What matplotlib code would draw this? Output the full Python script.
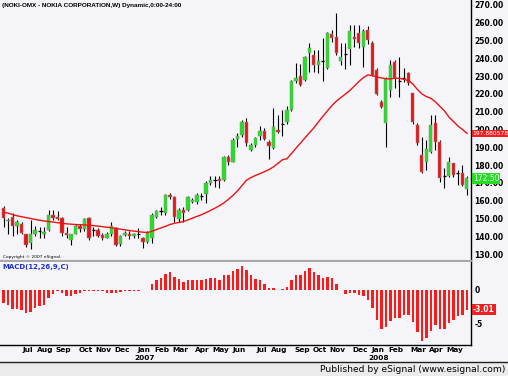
import numpy as np
import pandas as pd
import matplotlib
matplotlib.use('Agg')
import matplotlib.pyplot as plt
from matplotlib.transforms import blended_transform_factory

# ---------------- data (weekly, NOKI-OMX) ----------------
opens = [156, 148.5, 151, 146, 147, 141, 136, 141.5, 143.2, 141.5,
         143.5, 152, 151, 150, 142, 138, 141.5, 145.5, 144, 150,
         143.3, 143.5, 140.8, 139, 141, 144.5, 135.7, 140.8, 141.2, 140.3,
         141.2, 139, 137, 139, 151, 154.3, 153, 163.3, 162, 149.5,
         155, 154.5, 159, 159, 162.8, 164, 170.2, 171.6, 172, 171.7,
         184.5, 182, 194.6, 197, 204, 188.5, 191.3, 196.4, 199.4, 193.2,
         189.5, 199.8, 203, 204.4, 211, 227, 230, 228, 242.8, 242,
         236.3, 238.3, 234.4, 253.7, 252, 238.7, 242.3, 245, 252.2, 254,
         246.6, 256, 248.8, 233.5, 215.7, 203.5, 222.2, 238.2, 227, 228.8,
         231.6, 220.4, 202.6, 185.7, 182, 187.6, 203.5, 193.2, 173.6, 173.9,
         181, 175.3, 175.4, 166.5]
highs = [157, 150.5, 153, 149, 148, 141.5, 149, 145.5, 145, 145,
         155, 154.8, 154, 151, 145, 141.5, 147, 147, 150, 151,
         145, 144.5, 141.7, 142.5, 148, 145, 140.5, 142.7, 142.7, 142,
         144.5, 139.5, 142.7, 153, 155, 156.7, 164, 164.2, 162.4, 155.8,
         156.7, 162.7, 161.4, 164.2, 164.2, 170.8, 173.6, 174, 173.6, 185.2,
         185.8, 195.1, 197.9, 205.4, 206.3, 192.3, 196, 202, 200.7, 194.2,
         212, 208, 211, 213.2, 227.9, 237.2, 236.8, 241.3, 248.5, 244.7,
         244.7, 251.5, 255, 256, 265.7, 248.5, 248.5, 258.8, 258.8, 258.8,
         256.3, 258, 249.5, 234.4, 216.6, 229.7, 239.1, 239.1, 240.6, 234.4,
         232.5, 220.7, 203.5, 196, 194.2, 208.2, 208.2, 194.2, 178.2, 184.8,
         181.4, 177.3, 180, 173.9]
lows = [145, 141, 140, 141, 141, 134, 133, 140, 139, 139,
        143, 149, 149, 140, 139, 135, 141, 142.6, 143, 138,
        140, 139.8, 138, 139, 140, 134.5, 134.5, 139.9, 138.4, 139,
        139, 133.5, 136, 136, 150, 152, 152, 160.9, 148.3, 148.3,
        148, 154, 158.6, 158.3, 160.5, 158.6, 168.9, 167.6, 167, 171.3,
        180, 181.5, 190.4, 196, 191, 188, 190.4, 194.2, 194, 183.3,
        189, 198, 196.4, 203, 210.6, 226, 224.5, 227, 232.5, 232.5,
        232, 227, 233.8, 249.4, 242, 236.3, 233.8, 236.3, 246.6, 245.6,
        235.3, 248, 230, 219.4, 212, 190.4, 218.5, 223.2, 218.5, 226.9,
        225, 203, 191.3, 175.4, 177.3, 186.7, 188.5, 170.7, 167, 173.2,
        173.5, 168.9, 168, 163.3]
closes = [150, 149, 146, 148, 142, 135, 141, 143.5, 143.2, 142.5,
          152, 150, 149.5, 142, 140.5, 141, 145.5, 144, 149.5, 139,
          143.3, 140, 139, 141.5, 146, 135, 140, 142, 139.9, 141.2,
          141.2, 137, 142, 152, 154, 154.3, 163, 162, 151, 154.5,
          153, 162, 160.5, 163.3, 162.8, 170, 171.7, 171.6, 171, 184.8,
          182, 194.2, 196.1, 204.5, 192.3, 191.3, 195, 199.4, 194.5, 190.8,
          201.6, 198.6, 203, 211, 227, 229.2, 225, 240.6, 245.6, 236.3,
          238.7, 238.3, 254.1, 251.3, 243, 240.6, 242.3, 255.6, 250.7, 248.8,
          255.6, 250.3, 230.7, 219.8, 212.9, 228.2, 236.3, 228.8, 227, 228.8,
          226, 204.4, 192.3, 176.4, 188.9, 202.6, 193.2, 172.6, 173.6, 182,
          174.5, 175.3, 168.9, 172.5]
ma_line = [153.5, 153, 152.2, 151.5, 151, 150.5, 150, 149.5, 149, 148.6,
           148.3, 148, 147.6, 147.3, 147, 146.8, 146.6, 146.5, 146.4, 146.2,
           146, 145.7, 145.4, 145.1, 144.8, 144.4, 144, 143.6, 143.2, 142.9,
           142.6, 142.3, 142.1, 142.8, 143.8, 144.7, 145.6, 146.6, 147.3, 147.8,
           148.3, 149.2, 150.2, 151.2, 152.1, 153.3, 154.5, 155.8, 157.2, 158.8,
           160.8, 163, 165.5, 168.5, 171.5, 173, 174.2, 175.2, 176.3, 177.5,
           179, 181, 183, 183.6, 186.5, 189.5, 192.4, 195.3, 198.2, 201,
           204.3, 207.5, 210.5, 213.5, 216, 218, 220, 222, 224.5, 227,
           229.2, 230.7, 230.3, 229.5, 229, 228.5, 228.5, 228.8, 228.8, 228.2,
           227.5, 225.5, 222.5, 220, 218.5, 217.5, 215.5, 213, 210.5, 207,
           204.5, 202, 200, 197.88]
macd_hist = [-2.0, -2.3, -2.9, -2.9, -3.0, -3.5, -3.3, -2.8, -2.4, -2.2,
             -1.2, -0.65, -0.15, -0.5, -0.85, -0.85, -0.6, -0.5, -0.15, -0.1,
             -0.1, -0.1, -0.15, -0.5, -0.5, -0.5, -0.35, -0.2, -0.15, -0.1,
             -0.1, -0.05, 0.05, 0.85, 1.5, 1.77, 2.4, 2.8, 2.0, 1.67,
             1.26, 1.5, 1.5, 1.5, 1.5, 1.67, 1.77, 1.77, 1.5, 2.2,
             2.3, 2.9, 3.2, 3.7, 3.0, 2.2, 1.67, 1.5, 0.85, 0.25,
             0.35, 0.05, 0.1, 0.5, 1.5, 2.2, 2.2, 2.9, 3.4, 2.8,
             2.2, 1.87, 2.0, 1.77, 0.85, 0.03, -0.65, -0.4, -0.5, -0.75,
             -0.9, -1.5, -2.8, -4.5, -5.9, -5.6, -4.7, -4.3, -4.2, -3.8,
             -3.8, -4.8, -6.3, -7.7, -7.3, -6.2, -5.3, -5.9, -5.9, -5.05,
             -4.5, -4.0, -3.8, -3.01]
price_ticks = [130, 140, 150, 160, 170, 180, 190, 200, 210, 220, 230, 240, 250, 260, 270]
macd_ticks = [0, -5]
ma_last_label = '197.880578'
close_last_label = '172.50'
macd_last_label = '-3.01'
title = '(NOKI-OMX - NOKIA CORPORATION,W) Dynamic,0:00-24:00'

n = len(closes)
dates = pd.date_range('2006-06-02', periods=n, freq='W-FRI')
idx = np.arange(n)

# ---------------- figure ----------------
W, H = 508, 376
BG = '#f5f4f8'
fig = plt.figure(figsize=(W / 100, H / 100), dpi=100)
fig.patch.set_facecolor(BG)


def px_axes(x0, y0, x1, y1):
    return fig.add_axes([x0 / W, 1 - y1 / H, (x1 - x0) / W, (y1 - y0) / H])


ax = px_axes(0, 0, 471, 261)
axm = px_axes(0, 262, 471, 345)
xlim = (-0.78, 103.9)

GREEN = '#22e022'
RED = '#ee1111'
bold = dict(fontweight='bold', family='DejaVu Sans')

for a in (ax, axm):
    a.set_facecolor(BG)
    a.set_xlim(*xlim)
    a.set_xticks([])
    for s in ('left', 'top'):
        a.spines[s].set_visible(False)
    a.spines['right'].set_color('black')
    a.spines['right'].set_linewidth(1.0)
    a.yaxis.tick_right()
    a.tick_params(axis='y', length=0, pad=2.5, labelsize=5.5)

ax.spines['bottom'].set_color('#a8a8a8')
ax.spines['bottom'].set_linewidth(1.6)
axm.spines['bottom'].set_color('black')
axm.spines['bottom'].set_linewidth(1.0)

# candles
o = np.array(opens); h = np.array(highs); l = np.array(lows); c = np.array(closes)
ax.vlines(idx, l, h, color='black', lw=0.8, zorder=2)
bw = 0.68
for i in range(n):
    if abs(c[i] - o[i]) < 0.05:
        ax.hlines(o[i], i - bw / 2, i + bw / 2, color='black', lw=0.9, zorder=3)
    else:
        col = GREEN if c[i] > o[i] else RED
        ax.bar(i, c[i] - o[i], bottom=o[i], width=bw, color=col,
               edgecolor='#8a8a8a', linewidth=0.35, zorder=3)

ax.plot(idx, ma_line, color=RED, lw=1.0, zorder=4)
ax.set_ylim(126.1, 272.8)
ax.set_yticks(price_ticks)
ax.set_yticklabels([f'{v:.2f}' for v in price_ticks], **bold)

# macd histogram
axm.bar(idx, macd_hist, width=0.5, color='#ff1a1a', edgecolor='none', zorder=3)
axm.set_ylim(-8.33, 4.24)
axm.set_yticks(macd_ticks)
axm.set_yticklabels([str(v) for v in macd_ticks], **bold)

# last-value boxes on the right axis (drawn over the tick labels, as in the original)
tr = blended_transform_factory(ax.transAxes, ax.transData)
ax.text(1.003, ma_line[-1], ma_last_label, transform=tr, ha='left', va='center',
        fontsize=4.3, color='white', family='DejaVu Sans', zorder=10,
        bbox=dict(boxstyle='square,pad=0.12', fc='#ee2020', ec='none'), clip_on=False)
ax.text(1.004, closes[-1], close_last_label, transform=tr, ha='left', va='center',
        fontsize=5.5, color='white', family='DejaVu Sans', zorder=10,
        bbox=dict(boxstyle='square,pad=0.12', fc='#22dd22', ec='none'), clip_on=False)
trm = blended_transform_factory(axm.transAxes, axm.transData)
axm.text(1.004, macd_hist[-1], macd_last_label, transform=trm, ha='left', va='center',
         fontsize=5.5, color='white', fontweight='bold', family='DejaVu Sans', zorder=10,
         bbox=dict(boxstyle='square,pad=0.12', fc='#ee2020', ec='none'), clip_on=False)

# month labels
trx = blended_transform_factory(axm.transData, fig.transFigure)
prev_month = None
for i, d in enumerate(dates):
    if d.month != prev_month:
        if prev_month is not None:
            axm.text(i + 0.3, 1 - 350 / H, d.strftime('%b'), transform=trx, ha='center', va='center',
                     fontsize=5.3, clip_on=False, **bold)
            if d.month == 1:
                axm.text(i + 0.3, 1 - 357.5 / H, str(d.year), transform=trx, ha='center', va='center',
                         fontsize=5.3, clip_on=False, **bold)
        prev_month = d.month

# texts
fig.text(2 / W, 1 - 5.5 / H, title, ha='left', va='center', fontsize=4.6,
         fontweight='bold', family='Liberation Sans')
fig.text(3 / W, 1 - 257 / H, 'Copyright \u00a9 2007 eSignal.', ha='left', va='center',
         fontsize=3.2, family='DejaVu Sans')
fig.text(2 / W, 1 - 266.5 / H, 'MACD(12,26,9,C)', ha='left', va='center', fontsize=5.0,
         color='#2030d0', fontweight='bold', family='DejaVu Sans')

# bottom band
band = fig.add_axes([0, 0, 1, 14 / H])
band.set_facecolor('#ebebeb')
band.set_xticks([]); band.set_yticks([])
for s in ('left', 'right', 'bottom'):
    band.spines[s].set_visible(False)
band.spines['top'].set_color('#202020')
band.spines['top'].set_linewidth(1.0)
band.text(0.994, 0.45, 'Published by eSignal (www.esignal.com)', transform=band.transAxes,
          ha='right', va='center', fontsize=6.6, family='DejaVu Sans')

fig.savefig('out.png', dpi=100, facecolor=fig.get_facecolor())
